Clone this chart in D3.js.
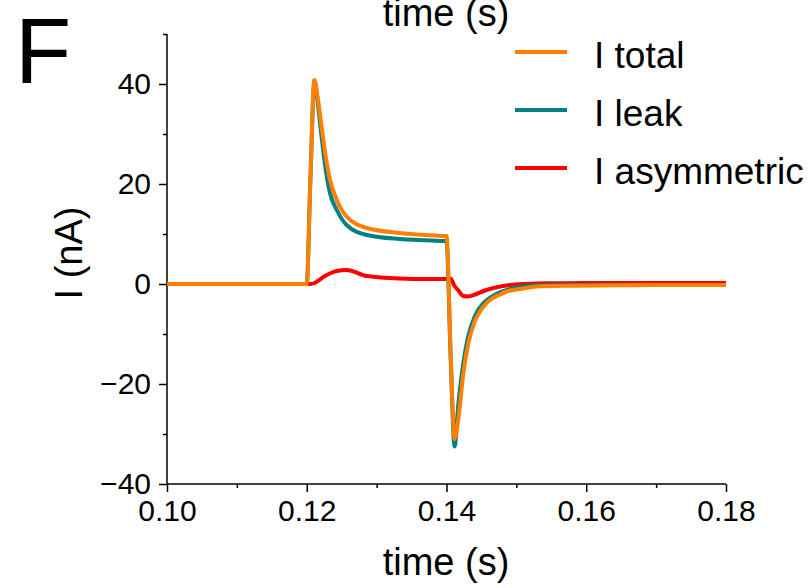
<!DOCTYPE html>
<html>
<head>
<meta charset="utf-8">
<script src="https://cdn.jsdelivr.net/npm/d3@7"></script>
<style>
  body { margin: 0; background: #fff; }
  svg { font-family: "Liberation Sans", Arial, sans-serif; }
</style>
</head>
<body>
<div id="chart"></div>
<script>
// sample times (s)
const time = [0.100, 0.110, 0.1199, 0.1200, 0.1205, 0.1211, 0.1216, 0.1220, 0.1226, 0.1233,
  0.1243, 0.1257, 0.1286, 0.1333, 0.1370, 0.1399, 0.1400, 0.1406, 0.14115, 0.1417,
  0.1424, 0.1431, 0.1441, 0.1453, 0.1462, 0.1477, 0.1486, 0.1510, 0.1529, 0.1570,
  0.1620, 0.1700, 0.1800];

// currents (nA)
const iTotal = [0, 0, 0, 0, 20, 40.8, 37, 32.8, 26.5, 21,
  16.8, 13.5, 11.2, 10.2, 9.8, 9.6, 9.6, -14, -31, -27,
  -18, -12, -7.3, -4.5, -3.2, -2.1, -1.5, -0.9, -0.5, -0.35,
  -0.3, -0.2, -0.2];
const iLeak = [0, 0, 0, 0, 20, 40.6, 36, 31, 24, 18.3,
  14.8, 11.8, 9.8, 9.0, 8.75, 8.6, 8.6, -15, -32.5, -24,
  -15.9, -10.5, -6.3, -3.8, -2.8, -1.6, -1.2, -0.5, -0.25, -0.2,
  -0.2, -0.2, -0.2];
const iAsym = [0, 0, 0, 0, 0, 0.2, 0.6, 1.0, 1.6, 2.1,
  2.6, 2.8, 1.6, 1.1, 1.0, 1.0, 1.0, 1.05, -0.4, -1.3,
  -2.4, -2.5, -2.1, -1.4, -1.0, -0.5, -0.3, 0.0, 0.1, 0.15,
  0.2, 0.2, 0.2];

const seriesNames = ["I total", "I leak", "I asymmetric"];
const seriesColors = ["#ff8000", "#008080", "#ff0000"];

const xTicks = [0.10, 0.12, 0.14, 0.16, 0.18];
const xMinor = [0.11, 0.13, 0.15, 0.17];
const yTicks = [-40, -20, 0, 20, 40];
const yMinor = [-30, -10, 10, 30, 50];

const W = 812, H = 588;

const svg = d3.select("#chart").append("svg")
  .attr("width", W)
  .attr("height", H);

const x = d3.scaleLinear().domain([0.10, 0.18]).range([167, 726]);
const y = d3.scaleLinear().domain([-40, 50]).range([484, 34]);

// panel letter
svg.append("text")
  .attr("x", 15)
  .attr("y", 83)
  .attr("font-size", 92)
  .text("F");

// top axis title (partially cut off, as in the figure)
svg.append("text")
  .attr("x", 446)
  .attr("y", 26)
  .attr("text-anchor", "middle")
  .attr("font-size", 38)
  .text("time (s)");

// axes
const xAxis = svg.append("g")
  .attr("transform", `translate(0, ${y(-40)})`)
  .call(d3.axisBottom(x).tickValues(xTicks).tickSize(8).tickPadding(8).tickFormat(d3.format(".2f")));
svg.append("g")
  .attr("transform", `translate(0, ${y(-40)})`)
  .call(d3.axisBottom(x).tickValues(xMinor).tickSize(4).tickFormat(""))
  .call(g => g.select(".domain").remove());

const yAxis = svg.append("g")
  .attr("transform", `translate(${x(0.10)}, 0)`)
  .call(d3.axisLeft(y).tickValues(yTicks).tickSize(8).tickPadding(8));
svg.append("g")
  .attr("transform", `translate(${x(0.10)}, 0)`)
  .call(d3.axisLeft(y).tickValues(yMinor).tickSize(4).tickFormat(""))
  .call(g => g.select(".domain").remove());

// plain axis lines, no end caps
xAxis.select(".domain").attr("d", `M${x(0.10)},0H${x(0.18)}`);
yAxis.select(".domain").attr("d", `M0,${y(50)}V${y(-40)}`);

svg.selectAll(".tick line, .domain")
  .attr("stroke", "#000")
  .attr("stroke-width", 1.5);
svg.selectAll(".tick text")
  .attr("font-family", "Liberation Sans, Arial, sans-serif")
  .attr("font-size", 30)
  .attr("fill", "#000");

// axis titles
svg.append("text")
  .attr("x", 446)
  .attr("y", 575)
  .attr("text-anchor", "middle")
  .attr("font-size", 38)
  .text("time (s)");

svg.append("text")
  .attr("transform", "rotate(-90)")
  .attr("x", -253)
  .attr("y", 82)
  .attr("text-anchor", "middle")
  .attr("font-size", 38)
  .text("I (nA)");

// traces
const line = d3.line()
  .x((d, i) => x(time[i]))
  .y(d => y(d))
  .curve(d3.curveMonotoneX);

const traces = [iTotal, iLeak, iAsym];
[2, 1, 0].forEach(k => {
  svg.append("path")
    .datum(traces[k])
    .attr("fill", "none")
    .attr("stroke", seriesColors[k])
    .attr("stroke-width", 4)
    .attr("stroke-linejoin", "round")
    .attr("d", line);
});

// legend
const legend = svg.append("g");
const legendY = [52, 110, 168];
seriesNames.forEach((name, i) => {
  legend.append("line")
    .attr("x1", 515).attr("x2", 567)
    .attr("y1", legendY[i]).attr("y2", legendY[i])
    .attr("stroke", seriesColors[i])
    .attr("stroke-width", 4);
  legend.append("text")
    .attr("x", 594)
    .attr("y", legendY[i] + 16)
    .attr("font-size", 37)
    .text(name);
});
</script>
</body>
</html>
